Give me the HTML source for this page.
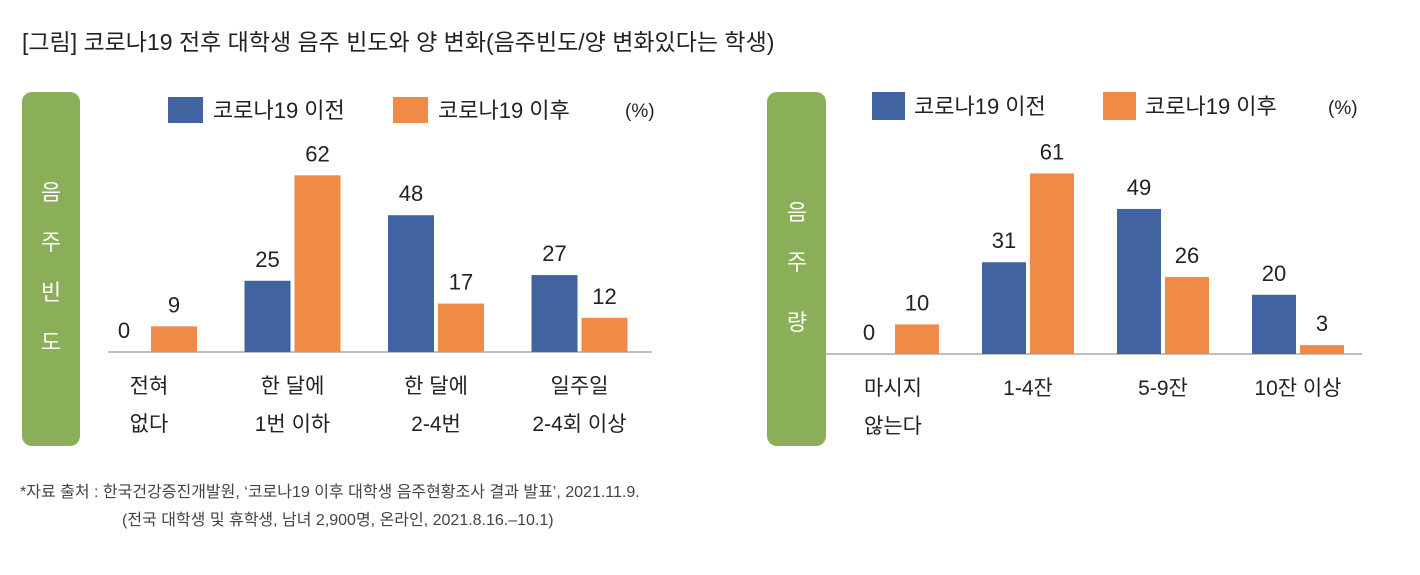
<!DOCTYPE html>
<html><head><meta charset="utf-8">
<style>
body{margin:0;background:#fff;}
svg text{font-family:"Liberation Sans","Noto Sans CJK KR",sans-serif;}
</style></head>
<body>
<svg id="c" width="1420" height="570" xmlns="http://www.w3.org/2000/svg">
<text x="22" y="50" font-size="23" fill="#222">[그림] 코로나19 전후 대학생 음주 빈도와 양 변화(음주빈도/양 변화있다는 학생)</text>
<rect x="22" y="92" width="58" height="354" rx="10" fill="#8bae58"/>
<rect x="767" y="92" width="59" height="354" rx="10" fill="#8bae58"/>
<g font-size="22" fill="#fff" text-anchor="middle">
<text x="51" y="200">음</text>
<text x="51" y="250">주</text>
<text x="51" y="300">빈</text>
<text x="51" y="350">도</text>
<text x="797" y="220">음</text>
<text x="797" y="270">주</text>
<text x="797" y="330">량</text>
</g>
<g font-size="22" fill="#222">
<rect x="168" y="97" width="35" height="26" fill="#41639f"/>
<text x="213" y="118">코로나19 이전</text>
<rect x="393" y="97" width="35" height="26" fill="#ef8a47"/>
<text x="438" y="118">코로나19 이후</text>
<text x="625" y="117" font-size="19">(%)</text>
<rect x="872" y="92" width="33" height="28" fill="#41639f"/>
<text x="914" y="114">코로나19 이전</text>
<rect x="1103" y="92" width="33" height="28" fill="#ef8a47"/>
<text x="1145" y="114">코로나19 이후</text>
<text x="1328" y="114" font-size="19">(%)</text>
</g>
<text x="20" y="497" font-size="16" fill="#444">*자료 출처 : 한국건강증진개발원, ‘코로나19 이후 대학생 음주현황조사 결과 발표’, 2021.11.9.</text>
<text x="122" y="525" font-size="16" fill="#444">(전국 대학생 및 휴학생, 남녀 2,900명, 온라인, 2021.8.16.–10.1)</text>
<g id="left"></g>
<g id="right"></g>
</svg>
<script>
const freqCats=[["전혀","없다"],["한 달에","1번 이하"],["한 달에","2-4번"],["일주일","2-4회 이상"]];
const freqBefore=[0,25,48,27];
const freqAfter=[9,62,17,12];
const amtCats=[["마시지","않는다"],["1-4잔"],["5-9잔"],["10잔 이상"]];
const amtBefore=[0,31,49,20];
const amtAfter=[10,61,26,3];
const NS="http://www.w3.org/2000/svg";
function mk(tag,attrs,parent){const e=document.createElementNS(NS,tag);for(const k in attrs)e.setAttribute(k,attrs[k]);parent.appendChild(e);return e;}
function draw(g,cats,before,after,o){
  const y=v=>o.base-v*o.scale;
  const ln=mk('line',{x1:o.x0,x2:o.x1,y1:o.base,y2:o.base,stroke:'#aaa','stroke-width':1.5},g);
  
  
  cats.forEach((c,i)=>{
    const cx=o.first+i*o.step;
    [[before[i],cx-o.w/2,'#41639f','before'],[after[i],cx+o.w/2+o.gap,'#ef8a47','after']].forEach(([v,bx,col,s])=>{
      const r=mk('rect',{x:bx-o.w/2,y:y(v),width:o.w,height:o.base-y(v),fill:col},g);
      
      
      const t=mk('text',{x:bx,y:y(v)-14,'font-size':22,'text-anchor':'middle',fill:'#222'},g);
      t.textContent=v;
      
      
    });
    c.forEach((line,j)=>{
      const t=mk('text',{x:cx+o.gap/2,y:o.base+41+j*38,'font-size':21,'text-anchor':'middle',fill:'#222'},g);
      t.textContent=line;
      
      
    });
  });
}
draw(document.getElementById('left'),freqCats,freqBefore,freqAfter,{base:352,scale:2.85,x0:108,x1:652,first:147,step:143.5,w:46,gap:4});
draw(document.getElementById('right'),amtCats,amtBefore,amtAfter,{base:354,scale:2.96,x0:826,x1:1362,first:891,step:135,w:44,gap:4});
</script>
</body></html>
